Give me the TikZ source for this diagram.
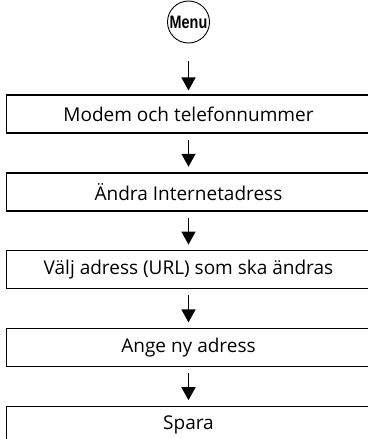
\documentclass[tikz,border=0pt]{standalone}
\usepackage{fontspec}
\setmainfont{Open Sans}
\newfontfamily\menufont{Liberation Sans}
\usetikzlibrary{arrows.meta,positioning}
\definecolor{Ink}{HTML}{000000}
\tikzset{
  stepbox/.style={
    draw=Ink,line width=1.3pt,fill=white,
    minimum width=363.4pt,minimum height=38pt,inner sep=0pt,
    font=\fontsize{19}{22}\selectfont,text=Ink
  },
  menubtn/.style={
    circle,draw=Ink,line width=0.9pt,minimum size=42pt,inner sep=0pt,
    font=\menufont\bfseries\fontsize{18}{22}\selectfont,text=Ink
  },
  arrow/.style={-{Triangle[length=13pt,width=14pt]},line width=1.6pt,draw=Ink}
}
\begin{document}
\begin{tikzpicture}[x=1pt,y=1pt,node distance=38.5pt]
  \useasboundingbox (0,0) rectangle (367,-439);
  \node[menubtn] (menu) at (188.5,-22) {\scalebox{0.8}[1]{Menu}};
  \node[stepbox,below=51pt of menu] (modem) {Modem och telefonnummer};
  \node[stepbox,below=of modem] (change) {Ändra Internetadress};
  \node[stepbox,below=of change] (pick) {Välj adress (URL) som ska ändras};
  \node[stepbox,below=of pick] (newaddr) {Ange ny adress};
  \node[stepbox,below=of newaddr] (save) {Spara};
  \draw[arrow,shorten <=17.5pt,shorten >=4pt] (menu) -- (modem);
  \foreach \a/\b in {modem/change,change/pick,pick/newaddr,newaddr/save}
    \draw[arrow,shorten <=6pt,shorten >=5.5pt] (\a) -- (\b);
\end{tikzpicture}
\end{document}
